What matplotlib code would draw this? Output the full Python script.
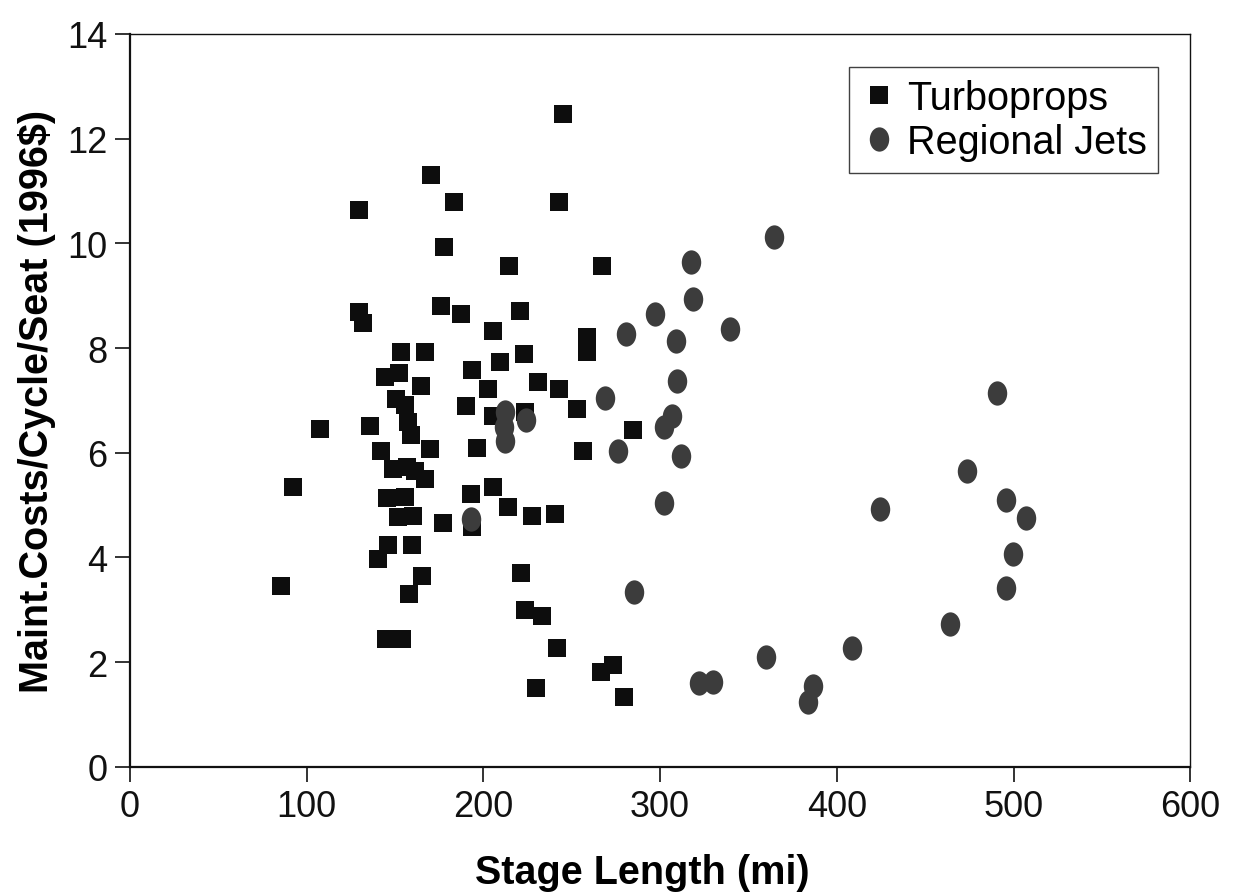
import matplotlib
matplotlib.use("Agg")
import matplotlib.pyplot as plt
from matplotlib.path import Path
from matplotlib.transforms import Affine2D
import numpy as np

plt.rcParams['font.family'] = ['Liberation Sans', 'DejaVu Sans']

# Turboprops: stage length (mi), maintenance cost per cycle per seat (1996$)
turbo_x = [170.2, 129.8, 183.4, 177.7, 176.0, 129.8, 132.0, 153.4, 167.0, 144.3,
           152.4, 164.7, 245.2, 243.0, 214.7, 267.1, 187.5, 220.9, 205.6, 258.6,
           258.6, 223.0, 209.4, 193.4, 231.1, 202.4, 242.8, 190.5, 205.6, 223.5,
           252.8, 284.5, 196.2, 256.2, 193.0, 205.3, 214.1, 227.7, 240.5, 193.9,
           177.3, 221.3, 223.5, 233.0, 241.5, 266.4, 273.5, 279.8, 229.6, 107.9,
           135.8, 92.4, 85.8, 150.5, 155.6, 157.3, 159.0, 169.8, 142.0, 149.0,
           156.6, 161.3, 167.0, 145.3, 155.6, 151.8, 160.3, 146.2, 140.5, 159.4,
           165.6, 158.1, 144.7, 154.1]
turbo_y = [11.31, 10.64, 10.78, 9.93, 8.80, 8.68, 8.48, 7.93, 7.93, 7.45,
           7.52, 7.28, 12.47, 10.78, 9.57, 9.57, 8.65, 8.71, 8.33, 8.21,
           7.92, 7.89, 7.73, 7.59, 7.35, 7.22, 7.22, 6.90, 6.71, 6.77,
           6.84, 6.44, 6.10, 6.04, 5.21, 5.34, 4.96, 4.80, 4.83, 4.58,
           4.66, 3.70, 3.00, 2.89, 2.27, 1.82, 1.94, 1.34, 1.50, 6.46,
           6.52, 5.34, 3.45, 7.03, 6.91, 6.59, 6.34, 6.07, 6.04, 5.69,
           5.72, 5.66, 5.50, 5.14, 5.15, 4.77, 4.80, 4.23, 3.97, 4.24,
           3.65, 3.30, 2.44, 2.44]

# Regional jets
jet_x = [364.6, 317.5, 318.4, 297.3, 339.4, 308.8, 280.7, 309.7, 268.8, 306.5,
         302.2, 311.8, 276.4, 302.2, 285.4, 212.2, 212.0, 212.2, 224.1, 193.0,
         490.5, 473.5, 495.6, 507.0, 424.5, 499.7, 495.6, 464.0, 408.8, 360.0,
         322.2, 329.8, 386.7, 383.7]
jet_y = [10.13, 9.64, 8.93, 8.65, 8.37, 8.13, 8.27, 7.38, 7.05, 6.71,
         6.50, 5.93, 6.04, 5.04, 3.35, 6.78, 6.50, 6.23, 6.63, 4.74,
         7.14, 5.65, 5.10, 4.76, 4.93, 4.07, 3.41, 2.72, 2.27, 2.09,
         1.60, 1.62, 1.55, 1.24]

x_ticks = [0, 100, 200, 300, 400, 500, 600]
y_ticks = [0, 2, 4, 6, 8, 10, 12, 14]

fig = plt.figure(figsize=(12.36, 8.95), dpi=100)
ax = fig.add_axes([0.105, 0.142, 0.858, 0.819])

# elliptical marker for jets
circ = Path.unit_circle()
ellipse = circ.transformed(Affine2D().scale(0.8, 1.0))

ax.plot(turbo_x, turbo_y, linestyle='none', marker='s', markersize=13.5,
        color='#0d0d0d', markeredgewidth=0, label='Turboprops', zorder=3)
ax.plot(jet_x, jet_y, linestyle='none', marker=ellipse, markersize=17.5,
        color='#3c3c3c', markeredgewidth=0, label='Regional Jets', zorder=4)

ax.set_xlim(0, 600)
ax.set_ylim(0, 14)
ax.set_xticks(x_ticks)
ax.set_yticks(y_ticks)
ax.tick_params(axis='both', direction='out', length=11, width=1.2,
               labelsize=26, pad=5, colors='#111111')
for s in ax.spines.values():
    s.set_linewidth(1.0)
    s.set_color('#111111')
ax.spines['left'].set_linewidth(1.6)
ax.spines['bottom'].set_linewidth(1.6)

ax.set_xlabel('Stage Length (mi)', fontsize=28.5, fontweight='bold')
ax.xaxis.set_label_coords(0.483, -0.118)
ax.set_ylabel('Maint.Costs/Cycle/Seat (1996$)', fontsize=28.5, fontweight='bold', labelpad=8)

leg = ax.legend(loc='upper right', bbox_to_anchor=(0.970, 0.955), borderaxespad=0,
                fontsize=28.5, frameon=True, fancybox=False, edgecolor='#111111',
                handletextpad=0.25, borderpad=0.3, labelspacing=0.15,
                handlelength=0.9, markerscale=1.0)
leg.get_frame().set_linewidth(1.0)

fig.savefig('out.png', dpi=100, facecolor='white')
